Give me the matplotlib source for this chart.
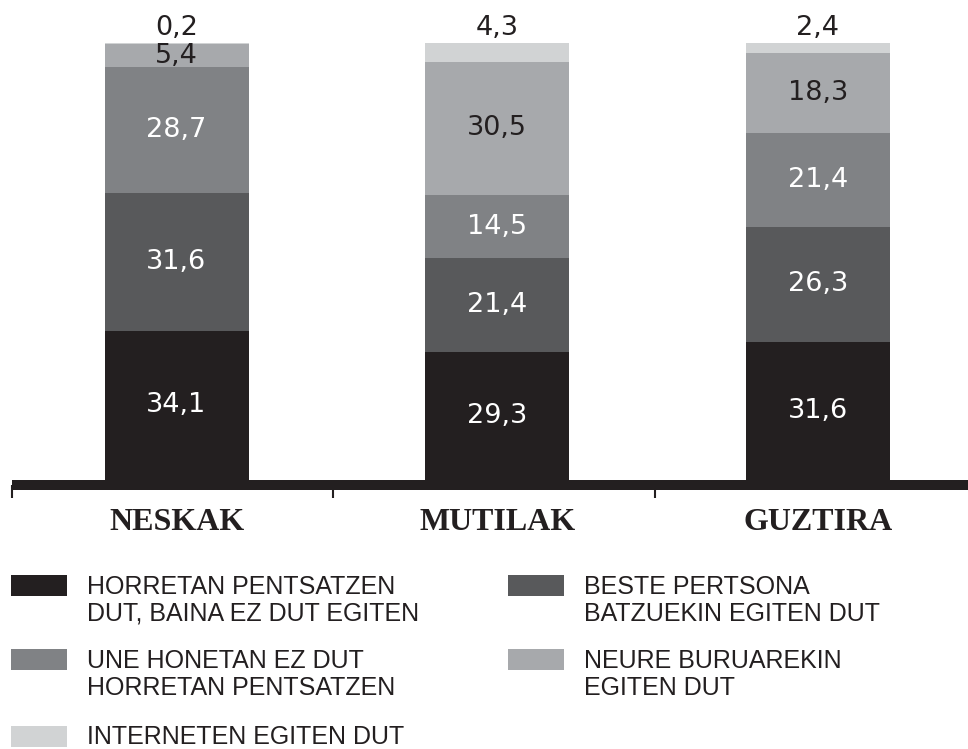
import matplotlib
matplotlib.use("Agg")
import matplotlib.pyplot as plt
from matplotlib.patches import Rectangle

# survey shares (%) per group, stacked bottom -> top
groups = ["NESKAK", "MUTILAK", "GUZTIRA"]
pentsatu_ez_egin = [34.1, 29.3, 31.6]
beste_batzuekin = [31.6, 21.4, 26.3]
ez_pentsatzen = [28.7, 14.5, 21.4]
neure_buruarekin = [5.4, 30.5, 18.3]
interneten = [0.2, 4.3, 2.4]

series = [pentsatu_ez_egin, beste_batzuekin, ez_pentsatzen, neure_buruarekin, interneten]
labels = ["HORRETAN PENTSATZEN\nDUT, BAINA EZ DUT EGITEN",
          "BESTE PERTSONA\nBATZUEKIN EGITEN DUT",
          "UNE HONETAN EZ DUT\nHORRETAN PENTSATZEN",
          "NEURE BURUAREKIN\nEGITEN DUT",
          "INTERNETEN EGITEN DUT"]
colors = ["#231f20", "#58595b", "#808285", "#a7a9ac", "#d1d3d4"]
text_colors = ["white", "white", "white", "#231f20", "#231f20"]

INK = "#231f20"
W, H = 968, 749
fig = plt.figure(figsize=(W / 100, H / 100), dpi=100)

# bar area: base at y=480px, 100% at y=43px
ax = fig.add_axes([0, (H - 480) / H, 1, (480 - 43) / H])
step = 320.75
x = list(range(len(groups)))
ax.set_xlim(-176.5 / step, (W - 176.5) / step)
ax.set_ylim(0, 100)
width = 144 / step

bottom = [0.0] * len(groups)
for k, vals in enumerate(series):
    ax.bar(x, vals, width=width, bottom=bottom, color=colors[k], linewidth=0, zorder=3)
    for i, v in enumerate(vals):
        lbl = f"{v:.1f}".replace(".", ",")
        if k == len(series) - 1:
            ax.annotate(lbl, (x[i], bottom[i] + v), xytext=(0, 5.4), textcoords="offset points",
                        ha="center", va="baseline", fontsize=19.5, color=INK,
                        family="DejaVu Sans", annotation_clip=False)
        else:
            ax.text(x[i], bottom[i] + v / 2, lbl, ha="center", va="center",
                    fontsize=19.5, color=text_colors[k], family="DejaVu Sans", zorder=4)
    bottom = [b + v for b, v in zip(bottom, vals)]

# heavy baseline with small separator ticks
for s in ["top", "left", "right"]:
    ax.spines[s].set_visible(False)
left_end = (12 - 176.5) / step
ax.spines["bottom"].set_position(("outward", 3.6))
ax.spines["bottom"].set_linewidth(7.2)
ax.spines["bottom"].set_color(INK)
ax.spines["bottom"].set_capstyle("butt")
ax.spines["bottom"].set_bounds(left_end, (W - 176.5) / step)
ax.set_yticks([])
ax.set_xticks([])
ax.set_xticks([left_end, (333 - 176.5) / step, (655 - 176.5) / step], minor=True)
ax.tick_params(axis="x", which="minor", direction="out", length=9.4, width=1.5, color=INK)

for i, g in enumerate(groups):
    ax.text(x[i], -50 / 437 * 100, g, ha="center", va="baseline", fontsize=23,
            fontweight="bold", family="Liberation Serif", color=INK, clip_on=False)

# legend drawn in pixel coordinates, two columns
lg = fig.add_axes([0, 0, 1, 1])
lg.set_xlim(0, W)
lg.set_ylim(H, 0)
lg.axis("off")
order = [0, 2, 4, 1, 3]
col_x = [11, 508]
row_y = [575, 649, 726]
line_gap = 26
for n, k in enumerate(order):
    cx = col_x[0] if n < 3 else col_x[1]
    ry = row_y[n] if n < 3 else row_y[n - 3]
    lg.add_patch(Rectangle((cx, ry), 56, 21, color=colors[k], linewidth=0))
    extra = labels[k].count("\n") * line_gap
    base = min(ry + 20, H - 5.5)
    lg.text(cx + 76, base + extra, labels[k], ha="left", va="baseline", fontsize=18,
            family="Liberation Sans", color=INK, linespacing=1.14)

fig.savefig("out.png", dpi=100)
